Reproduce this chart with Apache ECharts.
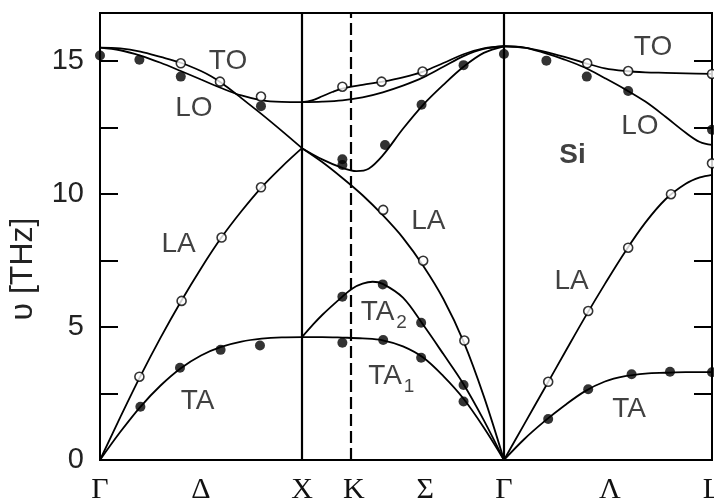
<!DOCTYPE html>
<html>
<head>
<meta charset="utf-8">
<script src="https://cdn.jsdelivr.net/npm/echarts@6/dist/echarts.min.js"></script>
<style>
  html, body { margin: 0; padding: 0; background: #fff; }
  #main { width: 714px; height: 501px; }
</style>
</head>
<body>
<div id="main"></div>
<script>
// path coordinate: Γ=0, X=1, K=1.243, Γ=2, L=3.03
const xMax = 3.03;
const yMax = 16.8;
const tickValues = [0, 0.5, 1, 1.257, 1.61, 2, 2.525, 3.03];
const tickNames = ['Γ', 'Δ', 'X', 'K', 'Σ', 'Γ', 'Λ', 'L'];
const solidLines = [1, 2];
const dashedLines = [1.243];
const yTicks = [0, 2.5, 5, 7.5, 10, 12.5, 15];
const yLabels = [0, 5, 10, 15];

// Γ - X (Δ)
const opticA_GX = [[0,15.5],[0.1,15.47],[0.2,15.35],[0.3,15.15],[0.4,14.93],[0.5,14.62],[0.55,14.42],[0.6,14.18],[0.65,13.9],[0.7,13.6],[0.8,13.0],[0.9,12.37],[1,11.72]];
const opticB_GX = [[0,15.5],[0.1,15.4],[0.2,15.2],[0.3,14.93],[0.4,14.62],[0.5,14.3],[0.6,13.98],[0.7,13.7],[0.8,13.52],[0.9,13.46],[1,13.45]];
const la_GX = [[0,0],[0.1,1.6],[0.2,3.15],[0.3,4.6],[0.4,5.95],[0.5,7.2],[0.6,8.35],[0.7,9.35],[0.8,10.25],[0.9,11.02],[1,11.72]];
const ta_GX = [[0,0],[0.1,1.05],[0.2,2.0],[0.3,2.8],[0.4,3.45],[0.5,3.93],[0.6,4.25],[0.7,4.45],[0.8,4.56],[0.9,4.61],[1,4.62]];

// X - K - Γ (Σ)
const to1_S = [[1,13.45],[1.05,13.52],[1.1,13.67],[1.15,13.83],[1.2,13.96],[1.3,14.1],[1.4,14.22],[1.5,14.38],[1.6,14.6],[1.7,14.92],[1.8,15.25],[1.9,15.47],[2,15.55]];
const to2_S = [[1,13.45],[1.1,13.47],[1.2,13.52],[1.3,13.63],[1.4,13.82],[1.5,14.07],[1.6,14.38],[1.7,14.78],[1.8,15.18],[1.9,15.45],[2,15.55]];
const lo_S = [[1,11.72],[1.1,11.3],[1.2,10.98],[1.27,10.86],[1.33,10.95],[1.4,11.45],[1.5,12.45],[1.6,13.35],[1.7,14.1],[1.8,14.78],[1.9,15.3],[2,15.55]];
const la_S = [[1,11.72],[1.1,11.2],[1.2,10.6],[1.3,9.95],[1.4,9.2],[1.5,8.35],[1.6,7.3],[1.7,6.05],[1.8,4.45],[1.9,2.4],[2,0]];
const ta2_S = [[1,4.62],[1.05,5.05],[1.1,5.45],[1.2,6.14],[1.25,6.45],[1.3,6.63],[1.35,6.7],[1.4,6.62],[1.5,6.1],[1.6,5.08],[1.7,3.98],[1.8,2.85],[1.9,1.5],[2,0]];
const ta1_S = [[1,4.62],[1.1,4.62],[1.2,4.6],[1.3,4.57],[1.4,4.5],[1.5,4.27],[1.6,3.85],[1.7,3.15],[1.8,2.3],[1.9,1.22],[2,0]];

// Γ - L (Λ)
const to_L = [[2,15.55],[2.1,15.5],[2.2,15.35],[2.3,15.15],[2.4,14.92],[2.5,14.72],[2.6,14.62],[2.7,14.57],[2.8,14.55],[2.9,14.53],[3.03,14.51]];
const lo_L = [[2,15.55],[2.1,15.5],[2.2,15.3],[2.3,15.05],[2.4,14.75],[2.5,14.35],[2.6,13.93],[2.7,13.47],[2.8,12.9],[2.9,12.3],[2.97,11.95],[3.03,11.84]];
const la_L = [[2,0],[2.1,1.34],[2.2,2.68],[2.3,4.02],[2.4,5.35],[2.5,6.62],[2.6,7.83],[2.7,8.92],[2.8,9.8],[2.9,10.38],[2.97,10.62],[3.03,10.72]];
const ta_L = [[2,0],[2.1,0.78],[2.2,1.45],[2.3,2.05],[2.4,2.58],[2.5,2.95],[2.6,3.15],[2.7,3.25],[2.8,3.28],[2.9,3.3],[3.03,3.3]];

// measured points
const filledDots = [
  [0,15.2],[0.195,15.04],[0.4,14.41],[0.797,13.3],
  [0.2,2.0],[0.396,3.47],[0.597,4.14],[0.792,4.3],
  [1.2,11.3],[1.2,11.09],[1.2,6.14],[1.2,4.41],
  [1.411,11.84],[1.592,13.35],[1.8,14.84],
  [1.4,6.6],[1.59,5.16],[1.8,2.82],
  [1.402,4.51],[1.59,3.84],[1.8,2.2],
  [2,15.26],
  [2.21,15.01],[2.41,14.41],[2.615,13.87],[3.03,12.41],
  [2.219,1.54],[2.417,2.66],[2.632,3.22],[2.822,3.32],[3.03,3.3]
];
const openDots = [
  [0.4,14.91],[0.594,14.22],[0.797,13.66],
  [0.195,3.13],[0.404,5.98],[0.602,8.36],[0.797,10.25],
  [1.2,14.03],[1.394,14.22],[1.597,14.6],
  [1.402,9.4],[1.6,7.49],[1.804,4.49],
  [2.412,14.91],[2.615,14.62],[3.03,14.51],
  [2.219,2.94],[2.417,5.6],[2.615,7.98],[2.827,9.99],[3.03,11.15]
];

const branchLabels = [
  [0.634,15.0,'TO'],[0.465,13.21,'LO'],[0.389,8.12,'LA'],[0.483,2.22,'TA'],
  [1.626,8.98,'LA'],[1.374,5.55,'TA'],[1.411,3.16,'TA'],
  [2.738,15.51,'TO'],[2.673,12.53,'LO'],[2.335,6.7,'LA'],[2.619,1.92,'TA']
];
const subLabels = [[1.493,5.14,'2'],[1.53,2.76,'1']];
const boldLabels = [[2.339,11.47,'Si']];

const curves = [opticA_GX, opticB_GX, la_GX, ta_GX, to1_S, to2_S, lo_S, la_S, ta2_S, ta1_S, to_L, lo_L, la_L, ta_L];

const sans = "'Liberation Sans', Arial, sans-serif";
const serif = "'Liberation Serif', 'Times New Roman', serif";

let chart = echarts.init(document.getElementById('main'));

const textSeries = (list, style) => ({
  type: 'scatter',
  data: list.map(d => ({value: [d[0], d[1]], name: d[2]})),
  symbolSize: 0,
  silent: true,
  z: 5,
  label: Object.assign({show: true, position: 'inside', formatter: '{b}', color: '#111', fontFamily: sans}, style)
});

const series = curves.map(c => ({
  type: 'line',
  data: c,
  smooth: 0.35,
  showSymbol: false,
  silent: true,
  lineStyle: {color: '#000', width: 1.8}
}));

series.push({
  type: 'line',
  data: [],
  silent: true,
  markLine: {
    silent: true,
    symbol: ['none', 'none'],
    label: {show: false},
    lineStyle: {color: '#000', width: 2.2, type: 'solid'},
    data: solidLines.map(v => ({xAxis: v}))
      .concat(dashedLines.map(v => ({xAxis: v, lineStyle: {type: [12, 5], width: 2.2, color: '#000'}})))
  }
});

series.push({
  type: 'scatter',
  data: filledDots,
  symbol: 'circle',
  symbolSize: 10,
  silent: true,
  z: 4,
  itemStyle: {color: '#000'}
});
series.push({
  type: 'scatter',
  data: openDots,
  symbol: 'circle',
  symbolSize: 9,
  silent: true,
  z: 4,
  itemStyle: {color: '#fff', borderColor: '#000', borderWidth: 1.6}
});
series.push(textSeries(branchLabels, {fontSize: 28}));
series.push(textSeries(subLabels, {fontSize: 19}));
series.push(textSeries(boldLabels, {fontSize: 28, fontWeight: 'bold'}));

const yAxisBase = {
  type: 'value',
  min: 0,
  max: yMax,
  splitLine: {show: false},
  axisLine: {show: true, lineStyle: {color: '#000', width: 2}},
  axisTick: {show: true, inside: true, length: 18, customValues: yTicks, lineStyle: {color: '#000', width: 2}}
};

chart.setOption({
  animation: false,
  backgroundColor: '#fff',
  grid: {left: 100, right: 2, top: 13, bottom: 41, show: true, borderColor: '#000', borderWidth: 2, outerBoundsMode: 'none'},
  xAxis: {
    type: 'value',
    min: 0,
    max: xMax,
    splitLine: {show: false},
    axisLine: {show: true, lineStyle: {color: '#000', width: 2}},
    axisTick: {show: false},
    axisLabel: {
      customValues: tickValues,
      formatter: v => tickNames[tickValues.indexOf(v)] || '',
      fontFamily: serif,
      fontSize: 30,
      color: '#111',
      margin: 15
    }
  },
  yAxis: [
    Object.assign({}, yAxisBase, {
      position: 'left',
      axisLabel: {customValues: yLabels, fontFamily: sans, fontSize: 29, color: '#222', margin: 16}
    }),
    Object.assign({}, yAxisBase, {
      position: 'right',
      axisLabel: {show: false}
    })
  ],
  graphic: [{
    type: 'text',
    x: 23,
    y: 269,
    rotation: Math.PI / 2,
    style: {text: 'υ [THz]', fontSize: 32, fontFamily: sans, fill: '#222', align: 'center', verticalAlign: 'middle'}
  }],
  series: series
});
</script>
</body>
</html>
